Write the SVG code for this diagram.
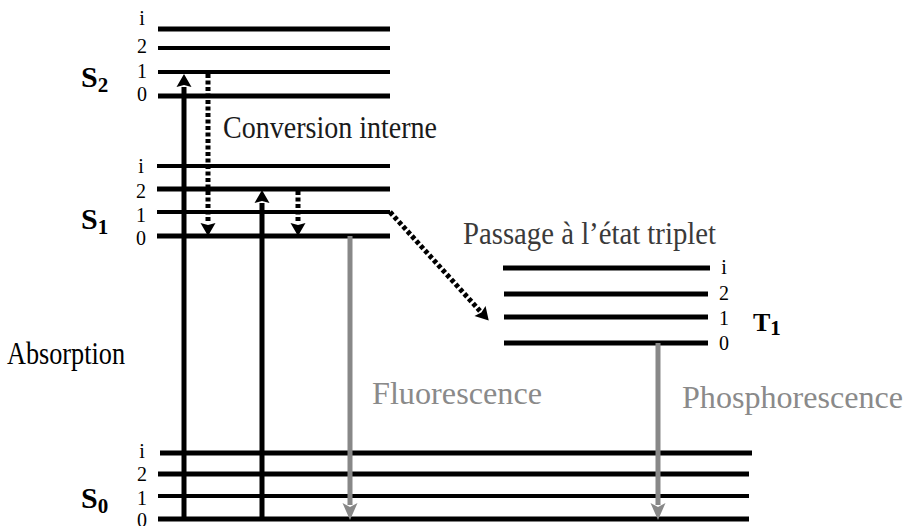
<svg xmlns="http://www.w3.org/2000/svg" width="909" height="526" viewBox="0 0 909 526">
<style>
.lvl{stroke:#000;stroke-width:5;stroke-linecap:butt;fill:none}
.thin{stroke-width:4}
.dig{font-family:"Liberation Serif","Times New Roman",serif;font-size:20px;fill:#000;text-anchor:middle}
.st{font-family:"Liberation Serif","Times New Roman",serif;font-weight:bold;font-size:30px;fill:#000}
.sub{font-size:21px}
.lbl{font-family:"Liberation Serif","Times New Roman",serif;font-size:31px}
.blk{stroke:#000;stroke-width:5;fill:none}
.dot{stroke:#000;stroke-width:5;fill:none;stroke-dasharray:4 2.5}
.gry{stroke:#888;stroke-width:5;fill:none}
</style>
<defs>
<marker id="ahB" markerUnits="userSpaceOnUse" markerWidth="20" markerHeight="20" refX="0" refY="0" viewBox="-2 -10 20 20" orient="auto" overflow="visible">
<path d="M0,-7.5 L13,0 L0,7.5 L2,0 z" fill="#000"/>
</marker>
<marker id="ahG" markerUnits="userSpaceOnUse" markerWidth="20" markerHeight="20" refX="0" refY="0" viewBox="-2 -10 20 20" orient="auto" overflow="visible">
<path d="M-2,-7.5 L15,0 L-2,7.5 L2,0 z" fill="#888"/>
</marker>
</defs>

<g id="S2">
<line class="lvl" x1="158" y1="29" x2="390" y2="29"/>
<line class="lvl thin" x1="158" y1="48" x2="390" y2="48"/>
<line class="lvl thin" x1="158" y1="72" x2="390" y2="72"/>
<line class="lvl" x1="158" y1="96" x2="390" y2="96"/>
<text class="dig" x="142" y="25">i</text>
<text class="dig" x="142" y="53">2</text>
<text class="dig" x="142" y="78">1</text>
<text class="dig" x="142" y="101">0</text>
<text class="st" x="81" y="87">S<tspan class="sub" dy="5">2</tspan></text>
</g>

<g id="S1">
<line class="lvl thin" x1="157" y1="166" x2="390" y2="166"/>
<line class="lvl" x1="157" y1="189" x2="390" y2="189"/>
<line class="lvl thin" x1="157" y1="212" x2="390" y2="212"/>
<line class="lvl" x1="157" y1="236" x2="390" y2="236"/>
<text class="dig" x="141" y="173">i</text>
<text class="dig" x="141" y="198">2</text>
<text class="dig" x="141" y="222">1</text>
<text class="dig" x="141" y="245">0</text>
<text class="st" x="81" y="229">S<tspan class="sub" dy="5">1</tspan></text>
</g>

<g id="T1">
<line class="lvl" x1="503" y1="268" x2="710" y2="268"/>
<line class="lvl" x1="504" y1="294" x2="708" y2="294"/>
<line class="lvl" x1="504" y1="317" x2="708" y2="317"/>
<line class="lvl" x1="504" y1="343" x2="708" y2="343"/>
<text class="dig" x="724" y="274">i</text>
<text class="dig" x="724" y="300">2</text>
<text class="dig" x="724" y="325">1</text>
<text class="dig" x="724" y="350">0</text>
<text class="st" x="753" y="331" style="font-size:26px">T<tspan class="sub" dy="4">1</tspan></text>
</g>

<g id="S0">
<line class="lvl" x1="160" y1="453" x2="752" y2="453"/>
<line class="lvl" x1="158" y1="474" x2="749" y2="474"/>
<line class="lvl thin" x1="158" y1="496" x2="749" y2="496"/>
<line class="lvl" x1="158" y1="519" x2="749" y2="519"/>
<text class="dig" x="142" y="458">i</text>
<text class="dig" x="142" y="481">2</text>
<text class="dig" x="142" y="505">1</text>
<text class="dig" x="142" y="527">0</text>
<text class="st" x="81" y="508">S<tspan class="sub" dy="5">0</tspan></text>
</g>

<g id="connectors">
<line class="blk" x1="184" y1="521" x2="184" y2="87" marker-end="url(#ahB)"/>
<line class="blk" x1="262" y1="521" x2="262" y2="203" marker-end="url(#ahB)"/>
<line class="dot" x1="208" y1="74" x2="208" y2="223" marker-end="url(#ahB)"/>
<line class="dot" x1="298" y1="191" x2="298" y2="223" marker-end="url(#ahB)"/>
<line class="dot" x1="390" y1="212" x2="480" y2="311" marker-end="url(#ahB)"/>
<line class="gry" x1="350" y1="236" x2="350" y2="505" marker-end="url(#ahG)"/>
<line class="gry" x1="658" y1="343" x2="658" y2="505" marker-end="url(#ahG)"/>
<text class="lbl" x="7" y="364" fill="#000" textLength="118" lengthAdjust="spacingAndGlyphs">Absorption</text>
<text class="lbl" x="223" y="138" fill="#1a1a1a" textLength="214" lengthAdjust="spacingAndGlyphs">Conversion interne</text>
<text class="lbl" x="463" y="244" fill="#3a3a3a" textLength="253" lengthAdjust="spacingAndGlyphs">Passage à l’état triplet</text>
<text class="lbl" x="372" y="404" fill="#8a8a8a" textLength="170" lengthAdjust="spacingAndGlyphs">Fluorescence</text>
<text class="lbl" x="682" y="408" fill="#8a8a8a" textLength="221" lengthAdjust="spacingAndGlyphs">Phosphorescence</text>
</g>
</svg>
